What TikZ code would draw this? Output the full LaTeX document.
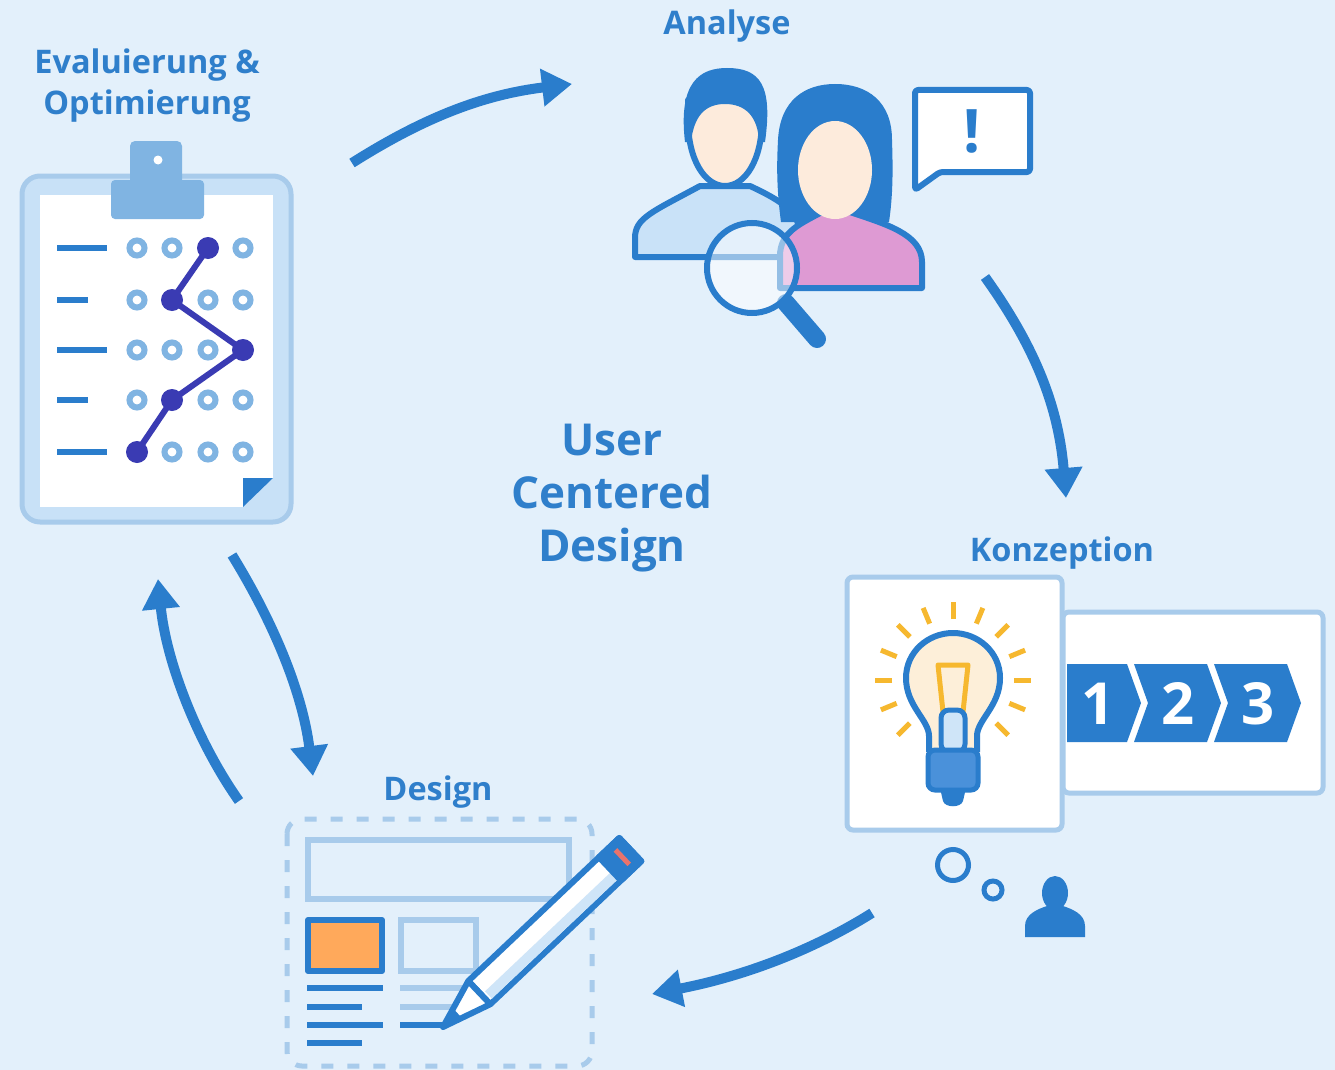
\documentclass[tikz,border=0pt]{standalone}
\usepackage{fontspec}
\setmainfont{Open Sans}
\usetikzlibrary{arrows.meta,calc}
\definecolor{bgc}{HTML}{E3F0FB}
\definecolor{cblue}{HTML}{2A7DCC}
\definecolor{tblue}{HTML}{2F7FCB}
\definecolor{lblue}{HTML}{A8CBEB}
\definecolor{clipc}{HTML}{80B4E2}
\definecolor{boardc}{HTML}{C8E1F7}
\definecolor{skin}{HTML}{FDEBDC}
\definecolor{shirt}{HTML}{C9E2F8}
\definecolor{blouse}{HTML}{DE9AD3}
\definecolor{chart}{HTML}{3A3BB3}
\definecolor{glass}{HTML}{FDEFD9}
\definecolor{ray}{HTML}{F6B82F}
\definecolor{tile}{HTML}{FFA95B}
\definecolor{eraser}{HTML}{E8736C}
\definecolor{midblue}{HTML}{4A91DA}
\definecolor{stripe}{HTML}{CFE5F8}
\tikzset{
  lab/.style={font=\bfseries\fontsize{32.5}{40}\selectfont, text=tblue, align=center, inner sep=0pt},
  big/.style={font=\bfseries\fontsize{44}{53}\selectfont, text=tblue, align=center, inner sep=0pt},
  num/.style={font=\bfseries\fontsize{58}{58}\selectfont, text=white, inner sep=0pt, anchor=base},
  flow/.style={draw=cblue, line width=10pt, -{Triangle[length=30pt,width=36pt]}},
  outl/.style={draw=cblue, line width=6pt, line join=round},
  soft/.style={draw=lblue, line width=6pt},
  card/.style={fill=white, draw=lblue, line width=5pt, rounded corners=6pt},
  ringdot/.style={draw=clipc, line width=6pt},
  bar/.style={draw=cblue, line width=6.5pt},
}
\begin{document}
\begin{tikzpicture}[x=1pt,y=-1pt]
\useasboundingbox (0,0) rectangle (1335,1070);
\fill[bgc] (0,0) rectangle (1335,1070);

% ---------- labels (base anchor = baseline of the last line) ----------
\node[lab, anchor=base] (tEval) at (147,114) {Evaluierung \&\\Optimierung};
\node[lab, anchor=base] (tAna) at (727,35) {Analyse};
\node[lab, anchor=base] (tKon) at (1062,561) {Konzeption};
\node[lab, anchor=base] (tDes) at (438,800) {Design};
\node[big, anchor=base] (tUCD) at (612,561) {User\\Centered\\Design};

% ---------- cycle arrows ----------
\coordinate (a1s) at (352,163); \coordinate (a1e) at (572,84);
\coordinate (a2s) at (985,277); \coordinate (a2e) at (1066,498);
\coordinate (a3s) at (872,913); \coordinate (a3e) at (652,994);
\coordinate (a4s) at (232,555); \coordinate (a4e) at (313,776);
\coordinate (a5s) at (239,801); \coordinate (a5e) at (158,579);
\draw[flow] (a1s) .. controls (420,120) and (480,95) .. (a1e);
\draw[flow] (a2s) .. controls (1030,340) and (1058,400) .. (a2e);
\draw[flow] (a3s) .. controls (810,952) and (740,977) .. (a3e);
\draw[flow] (a4s) .. controls (272,620) and (302,690) .. (a4e);
\draw[flow] (a5s) .. controls (196,740) and (166,660) .. (a5e);

% ---------- clipboard ----------
\draw[fill=boardc, draw=lblue, line width=5pt, rounded corners=18pt] (22,176) rectangle (291,522);
\fill[white] (40,195) rectangle (273,507);
\fill[boardc] (273,478) -- (273,507) -- (243,507) -- cycle;
\fill[cblue] (243,478) -- (273,478) -- (243,507) -- cycle;
\fill[clipc, rounded corners=5pt] (130,141) rectangle (182,186);
\fill[clipc, rounded corners=4pt] (111,180) rectangle (204,219);
\fill[white] (158,160) circle (4.5);
\foreach \y/\l in {248/107,300/88,350/107,400/88,452/107}
  \draw[bar] (57,\y) -- (\l,\y);
\foreach \y in {248,300,350,400,452}
  \foreach \x in {137,172,208,243}
    \draw[ringdot] (\x,\y) circle (7.5);
\draw[chart, line width=6pt, line join=round] (208,248) -- (172,300) -- (243,350) -- (172,400) -- (137,452);
\foreach \p in {(208,248),(172,300),(243,350),(172,400),(137,452)}
  \fill[chart] \p circle (11);

% ---------- people with magnifier ----------
% man
\path[fill=shirt, outl] (635,257) -- (635,238) .. controls (635,218) and (652,212) .. (700,186)
  -- (750,186) .. controls (780,200) and (800,212) .. (800,235) -- (800,257) -- cycle;
\path[fill=skin, outl] (688,120) .. controls (688,160) and (705,186) .. (725,186)
  .. controls (745,186) and (762,160) .. (762,120) -- (762,100) -- (688,100) -- cycle;
\fill[cblue] (685,142) .. controls (678,82) and (700,68) .. (727,68) .. controls (760,68) and (773,85) .. (765,142)
  -- (759,142) .. controls (758,116) and (745,104) .. (725,104) .. controls (705,104) and (694,116) .. (691,142) -- cycle;
% woman
\fill[cblue] (781,222) .. controls (776,185) and (777,160) .. (778,140) .. controls (780,100) and (805,84) .. (835,84)
  .. controls (868,84) and (892,102) .. (892,140) .. controls (893,170) and (893,195) .. (889,222) -- cycle;
\path[fill=blouse, outl] (780,288) -- (780,256) .. controls (780,232) and (800,224) .. (822,212)
  -- (850,212) .. controls (885,224) and (922,234) .. (922,262) -- (922,288) -- cycle;
\fill[skin] (822,196) rectangle (848,214);
\fill[skin] (835,170) ellipse [x radius=37, y radius=49];
\fill[cblue] (796,172) .. controls (796,130) and (815,112) .. (840,118) .. controls (858,128) and (872,140) .. (874,172)
  -- (876,110) -- (796,110) -- cycle;
% magnifier
\draw[cblue, line width=18pt, line cap=round] (786,303) -- (817,339);
\path[fill=white, fill opacity=0.5, draw=cblue, line width=6pt] (752,268) circle (45);
% speech bubble
\path[fill=white, outl, rounded corners=3pt] (940,172) -- (1030,172) -- (1030,90) -- (915,90) -- (915,190) -- cycle;
\node[num, text=cblue, font=\bfseries\fontsize{60}{60}\selectfont] (bang) at (972,153) {!};

% ---------- concept cards ----------
\draw[card] (1063,612) rectangle (1323,793);
\draw[card] (847,577) rectangle (1062,830);
\fill[cblue] (1067,664) -- (1127,664) -- (1141,703) -- (1127,742) -- (1067,742) -- cycle;
\fill[cblue] (1134,664) -- (1207,664) -- (1221,703) -- (1207,742) -- (1134,742) -- (1148,703) -- cycle;
\fill[cblue] (1214,664) -- (1287,664) -- (1301,703) -- (1287,742) -- (1214,742) -- (1228,703) -- cycle;
\node[num] (n1) at (1098,724) {1};
\node[num] (n2) at (1178,724) {2};
\node[num] (n3) at (1258,724) {3};
% light bulb
\foreach \a in {-45,-22.5,...,225}
  \draw[ray, line width=5pt] ($(953,680)+({61*cos(\a)},{-61*sin(\a)})$) -- ($(953,680)+({78*cos(\a)},{-78*sin(\a)})$);
\path[fill=glass, outl] (929,752) -- (929,736) .. controls (929,720) and (906,706) .. (906,678)
  .. controls (906,652) and (928,633) .. (953,633) .. controls (978,633) and (1000,652) .. (1000,678)
  .. controls (1000,706) and (977,720) .. (977,736) -- (977,752);
\draw[ray, line width=5pt, line join=round] (938,665) -- (968,665) -- (963,712) -- (943,712) -- cycle;
\path[fill=stripe, draw=cblue, line width=5pt, rounded corners=8pt] (941,710) rectangle (965,752);
\path[fill=midblue, draw=cblue, line width=5pt, rounded corners=7pt] (928,750) -- (928,790) -- (978,790) -- (978,750) -- cycle;
\fill[cblue] (940,788) -- (966,788) -- (963,801) .. controls (961,808) and (945,808) .. (943,801) -- cycle;
% thought
\draw[cblue, line width=5pt] (953,865) circle (15.5);
\draw[cblue, line width=5pt] (993,890) circle (9);
\fill[cblue] (1055,893) ellipse [x radius=13, y radius=17];
\fill[cblue] (1025,937) -- (1025,926) .. controls (1025,914) and (1038,909) .. (1047,906) -- (1063,906)
  .. controls (1072,909) and (1085,914) .. (1085,926) -- (1085,937) -- cycle;

% ---------- design sheet ----------
\draw[lblue, line width=5pt, rounded corners=15pt, dash pattern=on 12pt off 14pt] (287,819) rectangle (592,1066);
\draw[soft] (308,840) rectangle (569,899);
\path[fill=tile, outl] (308,920) rectangle (382,971);
\draw[soft] (401,920) rectangle (476,971);
\foreach \y/\l in {988/383,1007/362,1025/383,1043/362}
  \draw[bar] (307,\y) -- (\l,\y);
\draw[soft, line width=6.5pt] (400,988) -- (470,988);
\draw[soft, line width=6.5pt] (400,1007) -- (455,1007);
\draw[bar] (400,1025) -- (445,1025);
% pencil
\begin{scope}[shift={(443,1027)}, rotate=43.45]
  \path[fill=white, outl] (50,-16) -- (258,-16) -- (258,16) -- (50,16) -- cycle;
  \fill[stripe] (55,3) rectangle (230,13);
  \path[fill=cblue, outl] (230,-16) rectangle (258,16);
  \draw[eraser, line width=5pt] (247,-10) -- (247,10);
  \path[fill=white, outl] (50,-16) -- (0,0) -- (50,16) -- cycle;
  \fill[cblue] (0,0) -- (20,-7) -- (20,7) -- cycle;
\end{scope}
\end{tikzpicture}
\end{document}
